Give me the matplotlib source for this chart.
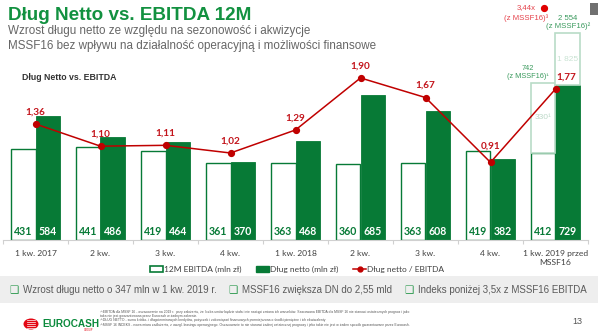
import matplotlib
matplotlib.use("Agg")
import matplotlib.pyplot as plt
from matplotlib.patches import Rectangle, Patch, Ellipse
from matplotlib.lines import Line2D
import numpy as np

# ---------------- data ----------------
categories = ["1 kw. 2017", "2 kw.", "3 kw.", "4 kw.", "1 kw. 2018", "2 kw.", "3 kw.", "4 kw.",
              "1 kw. 2019 przed\nMSSF16"]
ebitda = [431, 441, 419, 361, 363, 360, 363, 419, 412]
dlug = [584, 486, 464, 370, 468, 685, 608, 382, 729]
ratio = [1.36, 1.10, 1.11, 1.02, 1.29, 1.90, 1.67, 0.91, 1.77]
ebitda_mssf16_add = 330      # EBITDA increase with MSSF16 -> 742
dlug_mssf16_add = 1825       # net debt increase with MSSF16 -> 2 554
ratio_mssf16 = 3.44

W, H = 598, 336
DPI = 100
GREEN = "#077A36"
TITLE_GREEN = "#129140"
LIGHT = "#B9DCC7"
RED = "#C00000"
LBL_RED = "#C3141B"

plt.rcParams["font.family"] = ["Liberation Sans", "DejaVu Sans"]

fig = plt.figure(figsize=(W / DPI, H / DPI), dpi=DPI)


def fx(px):
    return px / W


def fy(py):
    return 1 - py / H


# ---------------- header texts ----------------
fig.text(fx(8), fy(20), "Dług Netto vs. EBITDA 12M", fontsize=13.6, fontweight="bold",
         color=TITLE_GREEN, va="baseline", ha="left")
fig.text(fx(8), fy(34), "Wzrost długu netto ze względu na sezonowość i akwizycje",
         fontsize=8.4, color="#666666", va="baseline")
fig.text(fx(8), fy(48.5), "MSSF16 bez wpływu na działalność operacyjną i możliwości finansowe",
         fontsize=8.4, color="#666666", va="baseline")
fig.text(fx(22), fy(80), "Dług Netto vs. EBITDA", fontsize=6.3, fontweight="bold",
         color="#333333", va="baseline")

# top-right cut-off element
fig.patches.append(Rectangle((fx(590), fy(15)), fx(10), 12 / H, transform=fig.transFigure,
                             facecolor="#707070", edgecolor="none"))

# ---------------- chart ----------------
base_px, top_px = 240, 33
PX_PER_UNIT = 0.212
PX_PER_RATIO = 85.3
ax = fig.add_axes([fx(3), fy(base_px), fx(585), (base_px - top_px) / H])
ymax = (base_px - top_px) / PX_PER_UNIT
ax.set_xlim(-0.5, len(categories) - 0.5)
ax.set_ylim(0, ymax)

x = np.arange(len(categories))
w = 0.377
ax.bar(x - w / 2, ebitda, width=w, facecolor="white", edgecolor=GREEN, linewidth=1.0, zorder=2)
ax.bar(x + w / 2, dlug, width=w, facecolor=GREEN, edgecolor=GREEN, linewidth=0.6, zorder=2)

# MSSF16 stacked extras on last group
last = len(categories) - 1
ax.bar(last - w / 2, ebitda_mssf16_add, bottom=ebitda[last], width=w, facecolor="white",
       edgecolor=LIGHT, linewidth=1.2, zorder=2)
cap_h = min(dlug_mssf16_add, ymax - dlug[last])
ax.bar(last + w / 2, cap_h, bottom=dlug[last], width=w, facecolor="white",
       edgecolor=LIGHT, linewidth=1.2, zorder=2, clip_on=False)
ax.text(last - w / 2, ebitda[last] + ebitda_mssf16_add / 2, f"{ebitda_mssf16_add}¹",
        ha="center", va="center", fontsize=6, color="#BCD9C8")
ax.text(last + w / 2, dlug[last] + cap_h / 2, f"{dlug_mssf16_add:,}".replace(",", " "),
        ha="center", va="center", fontsize=6, color="#C9E3D3")
ax.annotate(f"{ebitda[last] + ebitda_mssf16_add}\n(z MSSF16)¹",
            xy=(last - w / 2, ebitda[last] + ebitda_mssf16_add), xytext=(-11, 2),
            textcoords="offset points", ha="center", va="bottom", fontsize=5.3,
            color="#3B9A5E", linespacing=1.1, zorder=5)
ax.annotate(f"{dlug[last] + dlug_mssf16_add:,}".replace(",", " ") + "\n(z MSSF16)²",
            xy=(last + w / 2, ymax), xytext=(0, 2), textcoords="offset points",
            ha="center", va="bottom", fontsize=5.6, color="#3B9A5E", linespacing=1.1,
            annotation_clip=False)

# value labels in bars
for i in range(len(categories)):
    ax.annotate(str(ebitda[i]), xy=(x[i] - w / 2, 0), xytext=(0, 6), textcoords="offset points",
                ha="center", va="center", fontsize=7.6, fontweight="bold", color=GREEN,
                family=["Lato", "DejaVu Sans"], zorder=4)
    ax.annotate(str(dlug[i]), xy=(x[i] + w / 2, 0), xytext=(0, 6), textcoords="offset points",
                ha="center", va="center", fontsize=7.6, fontweight="bold", color="white",
                family=["Lato", "DejaVu Sans"], zorder=4)

# axis styling
for s in ["top", "left", "right"]:
    ax.spines[s].set_visible(False)
ax.spines["bottom"].set_color("#D0D0D0")
ax.spines["bottom"].set_linewidth(0.8)
ax.set_yticks([])
ax.set_xticks(x)
ax.set_xticklabels(categories, fontsize=6.1, color="#404040", family=["Lato", "DejaVu Sans"],
                   linespacing=1.35)
ax.tick_params(axis="x", which="major", length=0, pad=7)
ax.set_xticks(np.arange(-0.5, len(categories), 1.0), minor=True)
ax.tick_params(axis="x", which="minor", length=3, color="#D0D0D0", width=0.8)

# ratio line
ax2 = ax.twinx()
ax2.set_ylim(0, (base_px - top_px) / PX_PER_RATIO)
ax2.axis("off")
ax2.plot(x, ratio, color=RED, linewidth=1.1, marker="o", markersize=4.2, zorder=6,
         clip_on=False)
for i, r in enumerate(ratio):
    dx, dy = 0, 8.6
    if i == 7:
        dy = 12.0
    if i == last:
        dx = 7.5
    ax2.annotate(f"{r:.2f}".replace(".", ","), xy=(x[i], r), xytext=(dx, dy),
                 textcoords="offset points", ha="center", va="center", fontsize=7.2,
                 fontweight="bold", color=LBL_RED, family=["Lato", "DejaVu Sans"], zorder=7)

# 3.44x annotation (off-scale)
fig.text(fx(526), fy(8), f"{ratio_mssf16:.2f}x".replace(".", ","), ha="center", va="center",
         fontsize=5.6, color="#E5424B")
fig.text(fx(526), fy(18.5), "(z MSSF16)³", ha="center", va="center", fontsize=5.6,
         color="#E5424B")
fig.lines.append(Line2D([fx(544)], [fy(8.3)], transform=fig.transFigure, marker="o",
                        markersize=4.2, color="#E00000", linestyle="none"))

# legend
handles = [Patch(facecolor="white", edgecolor=GREEN, linewidth=1.2),
           Patch(facecolor=GREEN, edgecolor=GREEN),
           Line2D([0], [0], color=RED, marker="o", markersize=3.5, linewidth=1.1)]
labels = ["12M EBITDA (mln zł)", "Dług netto (mln zł)", "Dług netto / EBITDA"]
leg = fig.legend(handles, labels, loc="center", bbox_to_anchor=(fx(297), fy(269.5)), ncol=3,
                 frameon=False, fontsize=6, handlelength=1.6, handleheight=0.6,
                 handletextpad=0.15, columnspacing=1.7, borderaxespad=0, borderpad=0,
                 prop={"family": ["Lato", "DejaVu Sans"], "size": 6})
for t in leg.get_texts():
    t.set_color("#404040")

# ---------------- bullet band ----------------
fig.patches.append(Rectangle((0, fy(303)), 1, 27 / H, transform=fig.transFigure,
                             facecolor="#EEEEEE", edgecolor="none", zorder=0))
bullets = [(9, "Wzrost długu netto o 347 mln w 1 kw. 2019 r."),
           (228, "MSSF16 zwiększa DN do 2,55 mld"),
           (404, "Indeks poniżej 3,5x z MSSF16 EBITDA")]
for bx, txt in bullets:
    fig.text(fx(bx), fy(290), "❑", family=["DejaVu Sans"], fontsize=7.5, color="#2E9A4F",
             va="center", ha="left")
    fig.text(fx(bx + 14), fy(290), txt, fontsize=7.0, color="#5A5A5A", va="center", ha="left")

# ---------------- footer ----------------
fig.patches.append(Ellipse((fx(31), fy(324)), 15 / W, 11 / H, transform=fig.transFigure,
                           facecolor="#E30613", edgecolor="none"))
for k in range(-2, 3):
    fig.lines.append(Line2D([fx(27), fx(35)], [fy(324 + k * 2), fy(324 + k * 2)],
                            transform=fig.transFigure, color="white", linewidth=0.5))
fig.text(fx(42), fy(324), "EUROCASH", fontsize=7.2, fontweight="bold", color="#0B8A3C",
         va="center", ha="left")
fig.text(fx(89), fy(330), "GROUP", fontsize=1.8, color="#E30613", va="center", ha="center")

notes = [
    "⁽¹⁾EBITDA dla MSSF 16 - oszacowanie na 2019 r.  przy założeniu, że liczba umów będzie stała i nie nastąpi zmiana ich warunków. Szacowana EBITDA dla MSSF 16 nie stanowi ostatecznych prognoz i jako",
    "taka nie jest gwarantowana przez Eurocash w żadnym zakresie.",
    "⁽²⁾DŁUG NETTO - suma krótko- i długoterminowych kredytów, pożyczek i zobowiązań finansowych pomniejszona o środki pieniężne i ich ekwiwalenty",
    "⁽³⁾MSSF 16 INDEKS - nowa miara zadłużenia, z uwzgl. leasingu operacyjnego. Oszacowanie to nie stanowi żadnej ostatecznej prognozy i jako takie nie jest w żaden sposób gwarantowane przez Eurocash.",
]
for k, line in enumerate(notes):
    fig.text(fx(100), fy(312 + k * 4.2), line, fontsize=2.45, color="#555555", va="center",
             ha="left")
fig.text(fx(577), fy(322), "13", fontsize=6.5, color="#555555", va="center", ha="center")

fig.savefig("out.png", dpi=DPI)
